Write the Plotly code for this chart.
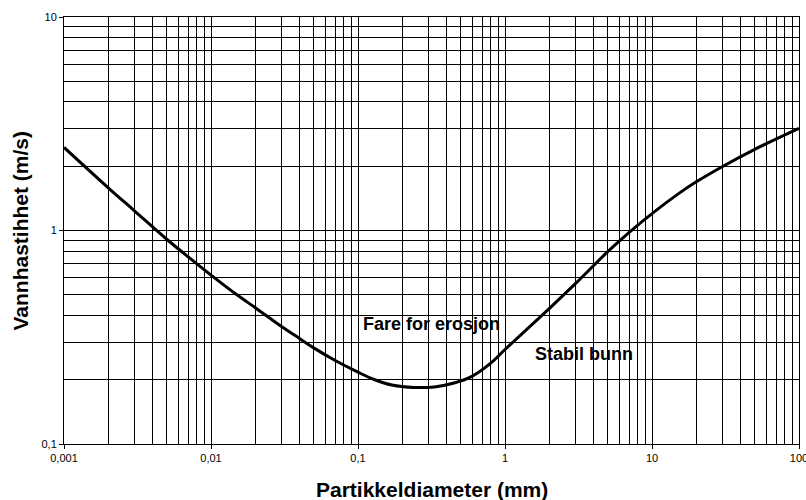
import plotly.graph_objects as go

# Data
diameter_mm = [0.001, 0.002, 0.003, 0.005, 0.007, 0.01, 0.015, 0.02, 0.03,
               0.04, 0.05, 0.07, 0.1, 0.13, 0.17, 0.24, 0.33, 0.45, 0.6, 0.8,
               1, 2, 3, 5, 7, 10, 15, 20, 30, 50, 100]
velocity_ms = [2.45, 1.585, 1.24, 0.91, 0.752, 0.618, 0.50, 0.435, 0.356,
               0.312, 0.282, 0.246, 0.217, 0.200, 0.189, 0.184, 0.185, 0.193,
               0.208, 0.239, 0.277, 0.431, 0.562, 0.796, 0.98, 1.2, 1.48,
               1.69, 1.99, 2.40, 3.01]

x_tickvals = [0.001, 0.01, 0.1, 1, 10, 100]
x_ticktext = ["0,001", "0,01", "0,1", "1", "10", "100"]
y_tickvals = [0.1, 1, 10]
y_ticktext = ["0,1", "1", "10"]

x_minor = [m * 10.0 ** e for e in range(-3, 2) for m in range(2, 10)]
y_minor = [m * 10.0 ** e for e in range(-1, 1) for m in range(2, 10)]

FONT = "Liberation Sans, Arial, sans-serif"

fig = go.Figure()
fig.add_trace(go.Scatter(
    x=diameter_mm, y=velocity_ms, mode="lines",
    line=dict(color="black", width=3, shape="spline", smoothing=1.0),
    hoverinfo="skip", showlegend=False,
))

axis_common = dict(
    type="log", showline=True, linecolor="black", linewidth=1, mirror=True,
    ticks="outside", ticklen=4, tickcolor="black", tickwidth=1,
    showgrid=True, gridcolor="black", gridwidth=1, zeroline=False,
    tickfont=dict(family=FONT, size=11, color="black"),
    ticklabeloverflow="allow", automargin=False,
)

fig.update_xaxes(
    **axis_common,
    range=[-3, 2], tickmode="array", tickvals=x_tickvals, ticktext=x_ticktext,
    minor=dict(tickmode="array", tickvals=x_minor, showgrid=True,
               gridcolor="black", gridwidth=1, ticks=""),
)
fig.update_yaxes(
    **axis_common,
    range=[-1, 1], tickmode="array", tickvals=y_tickvals, ticktext=y_ticktext,
    minor=dict(tickmode="array", tickvals=y_minor, showgrid=True,
               gridcolor="black", gridwidth=1, ticks=""),
)

title_font = dict(family=FONT, size=21, color="black")
label_font = dict(family=FONT, size=18, color="black")

fig.update_layout(
    width=806, height=500,
    margin=dict(l=64, r=7, t=17, b=56, autoexpand=False),
    paper_bgcolor="white", plot_bgcolor="white",
    font=dict(family=FONT, color="black"),
    annotations=[
        dict(text="<b>Partikkeldiameter (mm)</b>", xref="paper", yref="paper",
             x=0.5, y=0, xanchor="center", yanchor="middle", yshift=-45,
             showarrow=False, font=title_font),
        dict(text="<b>Vannhastihhet (m/s)</b>", xref="paper", yref="paper",
             x=0, y=0.5, xanchor="center", yanchor="middle", xshift=-44,
             textangle=-90, showarrow=False, font=title_font),
        dict(text="<b>Fare for erosjon</b>", xref="x", yref="y",
             x=-0.499, y=-0.438, xanchor="center", yanchor="middle",
             showarrow=False, font=label_font),
        dict(text="<b>Stabil bunn</b>", xref="x", yref="y",
             x=0.535, y=-0.578, xanchor="center", yanchor="middle",
             showarrow=False, font=label_font),
    ],
)

fig.write_html("out.html", config={"displayModeBar": False},
               post_script="document.body.style.margin='0';"
                           "document.body.style.overflow='hidden';")
